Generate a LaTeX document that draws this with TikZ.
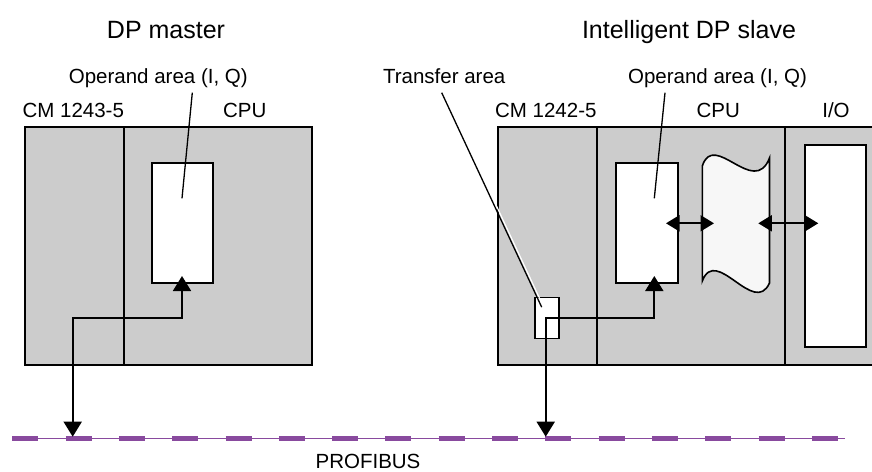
\documentclass[tikz,border=0pt]{standalone}
\usepackage{fontspec}
\setmainfont{Liberation Sans}
\usetikzlibrary{arrows.meta}
\definecolor{boxgray}{RGB}{204,204,204}
\definecolor{busviolet}{RGB}{137,74,158}
\definecolor{wavefill}{RGB}{247,247,247}
\begin{document}
\begin{tikzpicture}[x=1pt,y=-1pt,
  module/.style={draw=black, fill=boxgray, line width=2pt, inner sep=0pt, outer sep=0pt, anchor=north west},
  area/.style={draw=black, fill=white, line width=1.8pt, inner sep=0pt, outer sep=0pt, anchor=north west},
  lbl/.style={font=\fontsize{20.5}{24}\selectfont, anchor=base, inner sep=0pt},
  head/.style={font=\fontsize{25}{29}\selectfont, anchor=base, inner sep=0pt},
  leader/.style={draw=black, line width=1.3pt},
  conn/.style={draw=black, line width=1.8pt, {Triangle[length=15pt,width=18pt]}-{Triangle[length=15pt,width=18pt]}},
  xfer/.style={draw=black, line width=1.8pt, {Triangle[length=13.5pt,width=16pt]}-{Triangle[length=13.5pt,width=16pt]}}
]
\useasboundingbox (0,0) rectangle (872,471);
\clip (0,0) rectangle (872,471);
\fill[white] (0,0) rectangle (872,471);

% headings
\node[head] (hMaster) at (166,38.5) {DP master};
\node[head] (hSlave) at (689,38.5) {Intelligent DP slave};

% ---------- DP master ----------
\node[module, minimum width=99.3pt, minimum height=238.3pt] (cmL) at (25,126.7) {};
\node[module, minimum width=187.7pt, minimum height=238.3pt] (cpuL) at (124.3,126.7) {};
\node[area, minimum width=61.6pt, minimum height=119.4pt] (opL) at (151.7,163.3) {};
\node[lbl] (tCmL) at (73.3,117.3) {CM 1243-5};
\node[lbl] (tCpuL) at (244.7,117.3) {CPU};
\node[lbl] (tOpL) at (158.3,83) {Operand area (I, Q)};
\coordinate (lOpLa) at (192.3,92.7);
\coordinate (lOpLb) at (182,198.3);
\draw[leader] (lOpLa) -- (lOpLb);

% ---------- Intelligent DP slave ----------
\node[module, minimum width=99pt, minimum height=238.3pt] (cmR) at (497.7,126.7) {};
\node[module, minimum width=188.3pt, minimum height=238.3pt] (cpuR) at (596.7,126.7) {};
\node[module, minimum width=95pt, minimum height=238.3pt] (ioR) at (785,126.7) {};
\node[area, minimum width=61.7pt, minimum height=119.4pt] (opR) at (616,163.3) {};
\node[area, minimum width=61pt, minimum height=202.3pt] (ioA) at (805.3,145) {};
\node[area, line width=1.5pt, minimum width=24pt, minimum height=40.6pt] (trA) at (535,297.7) {};
\node[lbl] (tCmR) at (545.8,117.3) {CM 1242-5};
\node[lbl] (tCpuR) at (718.3,117.3) {CPU};
\node[lbl] (tIo) at (836,117.3) {I/O};
\node[lbl] (tOpR) at (717.5,83) {Operand area (I, Q)};
\node[lbl] (tTr) at (444.2,83) {Transfer area};

% memory (wave shape)
\draw[line width=1.6pt, fill=wavefill]
  (702.3,166) .. controls (714,130) and (754,198) .. (769.5,158)
  -- (769.5,283) .. controls (754,317) and (716,245) .. (702.3,281) -- cycle;

% leaders
\coordinate (lOpRa) at (665,92.7);
\coordinate (lOpRb) at (654.3,198.3);
\draw[leader] (lOpRa) -- (lOpRb);
\coordinate (lTra) at (441.7,92.7);
\coordinate (lTrb) at (541.7,307.2);
\draw[white, line width=1.2pt] ([xshift=2pt]lTra) -- ([xshift=2pt]lTrb);
\draw[leader] (lTra) -- (lTrb);

% ---------- PROFIBUS ----------
\coordinate (busA) at (12.3,438.3);
\coordinate (busB) at (844.7,438.3);
\coordinate (busC) at (839.7,438.3);
\draw[busviolet, line width=1.3pt] (busA) -- (busB);
\draw[busviolet, line width=4.7pt, dash pattern=on 26pt off 27.3pt] (busA) -- (busC);
\node[lbl] (tBus) at (368,468) {PROFIBUS};

% connectors
\coordinate (mBus) at (72.7,436.7);
\coordinate (mCorner) at (72.7,317.7);
\coordinate (mTip) at (182,276);
\draw[conn] (mBus) -- (mCorner) -| (mTip);

\coordinate (sBus) at (545.7,436.7);
\coordinate (sCorner) at (545.7,318.3);
\coordinate (sTip) at (654.3,276);
\draw[conn] (sBus) -- (sCorner) -| (sTip);

\coordinate (xA) at (666,223.3);
\coordinate (xB) at (714,223.3);
\draw[xfer] (xA) -- (xB);
\coordinate (xC) at (758.3,223.3);
\coordinate (xD) at (818.3,223.3);
\draw[xfer] (xC) -- (xD);
\end{tikzpicture}
\end{document}
